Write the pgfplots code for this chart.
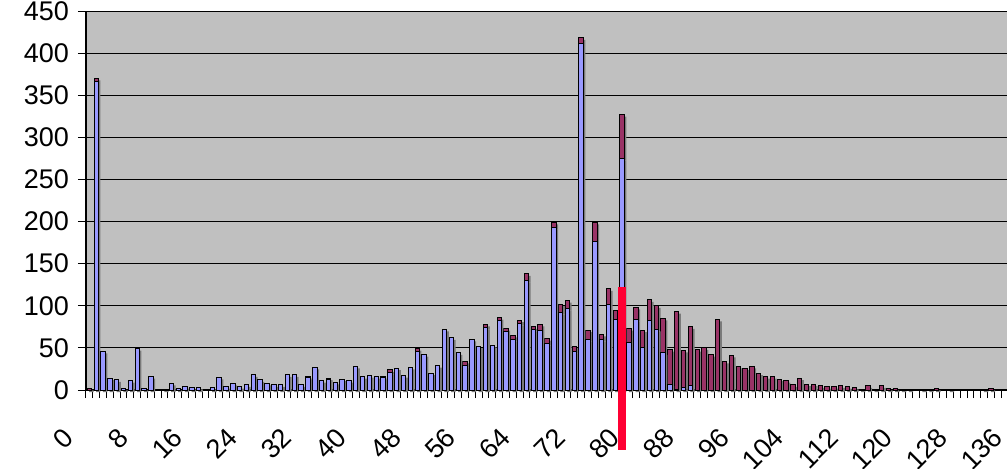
\documentclass[border=0pt]{standalone}
\usepackage{pgfplots}
\usepackage{pgfplotstable}
\pgfplotsset{compat=1.18}
\usepackage{fontspec}
\setmainfont{Liberation Sans}

\definecolor{barblue}{HTML}{9999FF}
\definecolor{barred}{HTML}{993366}
\definecolor{plotgray}{HTML}{C0C0C0}
\definecolor{shadowgray}{HTML}{7A7A7A}
\definecolor{marker}{HTML}{FF0033}

% category, blue part, red part
\pgfplotstableread{
x b r
0 0 2
1 366 4
2 46 0
3 14 0
4 12 0
5 2 0
6 11 0
7 49 0
8 2 0
9 16 0
10 0 0
11 0 1
12 8 0
13 2 0
14 4 0
15 3 0
16 3 0
17 0 0
18 3 0
19 15 0
20 4 0
21 8 0
22 4 0
23 6 0
24 18 0
25 12 0
26 8 0
27 6 0
28 6 0
29 18 0
30 18 0
31 6 0
32 15 1
33 27 0
34 11 0
35 13 1
36 9 0
37 13 0
38 11 0
39 28 0
40 16 0
41 17 0
42 16 0
43 15 1
44 21 3
45 26 0
46 17 0
47 27 0
48 46 3
49 42 0
50 20 0
51 29 0
52 72 0
53 62 0
54 44 0
55 29 5
56 60 0
57 52 0
58 74 4
59 53 0
60 83 3
61 69 4
62 60 5
63 79 4
64 130 8
65 72 3
66 71 7
67 55 6
68 193 6
69 92 10
70 97 9
71 46 6
72 412 6
73 60 11
74 176 23
75 60 6
76 101 19
77 84 10
78 275 52
79 56 17
80 84 14
81 51 20
82 83 24
83 72 28
84 44 41
85 7 41
86 1 92
87 3 44
88 5 70
89 0 48
90 0 50
91 0 42
92 0 84
93 0 34
94 0 41
95 0 28
96 0 26
97 0 28
98 0 20
99 0 16
100 0 16
101 0 13
102 0 11
103 0 6
104 0 14
105 0 7
106 0 7
107 0 5
108 0 4
109 0 4
110 0 5
111 0 4
112 0 3
113 0 1
114 0 5
115 0 1
116 0 5
117 0 2
118 0 2
119 0 1
120 0 1
121 0 0
122 0 1
123 0 1
124 0 2
125 0 0
126 0 1
127 0 0
128 0 0
129 0 0
130 0 0
131 0 1
132 0 2
133 0 0
134 0 0
135 0 0
136 0 0
137 0 0
}\data

\pgfplotsset{
  base/.style={
    at={(0,0)}, anchor=south west,
    scale only axis,
    width=471.27pt, height=189.5pt,
    xmin=-0.5, xmax=137.5,
    ymin=0, ymax=450,
  },
  shadowed/.style={
    preaction={fill=shadowgray, draw=none,
      transform canvas={xshift=1pt, yshift=-1pt}},
  },
}

\begin{document}
\begin{tikzpicture}
\begin{axis}[
  base,
  ybar stacked,
  bar width=2.2pt,
  axis lines=left,
  axis line style={-, black, line width=0.6pt},
  axis background/.style={fill=plotgray},
  tick align=outside,
  xtick={0,8,...,136},
  major x tick style={draw=none},
  minor xtick={-0.5,0.5,...,137.5},
  minor tick length=4pt,
  minor tick style={black, line width=0.5pt},
  ytick={0,50,...,450},
  major tick length=4pt,
  major tick style={black, line width=0.5pt},
  ymajorgrids,
  grid style={black, line width=0.5pt},
  tick label style={font=\fontsize{13.5}{15}\selectfont},
  xticklabel style={anchor=east, xshift=-8pt, yshift=-15pt, rotate=45},
  yticklabel style={xshift=-1pt},
  /pgf/number format/assume math mode=true,
  /pgf/number format/1000 sep={},
  clip=false,
]
\addplot[shadowed, fill=barblue, draw=black, line width=0.5pt] table[x=x, y=b] {\data};
\addplot[shadowed, fill=barred, draw=black, line width=0.5pt] table[x=x, y=r] {\data};
\end{axis}
\begin{axis}[base, hide axis, clip=false]
\addplot[marker, line width=4pt, line cap=butt] coordinates {(78,122) (78,-71)};
\end{axis}
\pgfresetboundingbox
\useasboundingbox (-43pt,-39pt) rectangle (460.5pt,195pt);
\end{tikzpicture}
\end{document}
